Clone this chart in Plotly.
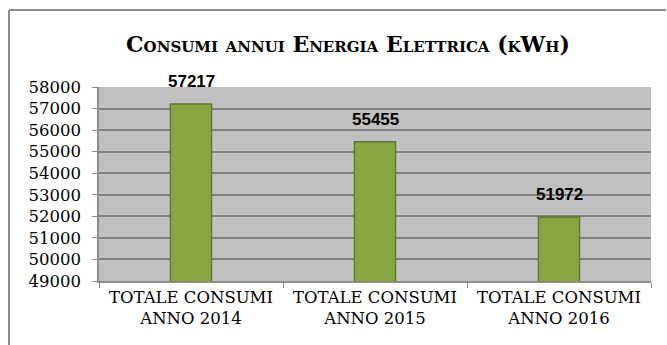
import plotly.graph_objects as go

categories = ["TOTALE CONSUMI<br>ANNO 2014", "TOTALE CONSUMI<br>ANNO 2015", "TOTALE CONSUMI<br>ANNO 2016"]
values = [57217, 55455, 51972]
title_text = "Consumi annui Energia Elettrica (kWh)"
y_ticks = list(range(49000, 58001, 1000))
y_tick_labels = [str(t) for t in y_ticks]

fig = go.Figure()
fig.add_trace(go.Bar(
    x=categories, y=values,
    marker=dict(color="#87a642", line=dict(color="#5f7a26", width=1.5)),
    width=0.223,
    showlegend=False,
    hoverinfo="skip",
))

for c, v in zip(categories, values):
    fig.add_annotation(x=c, y=v, text=str(v), showarrow=False, yshift=22,
                       font=dict(family="Liberation Sans, Arial", size=17, color="#000000", weight="bold"))

fig.update_layout(
    width=667, height=345,
    margin=dict(l=99, r=16, t=87, b=64),
    paper_bgcolor="#ffffff",
    plot_bgcolor="#c0c0c0",
    title=dict(text="<b>" + title_text + "</b>", x=(348 - 99) / 552, xanchor="center", xref="paper",
               y=1 - 44 / 345, yanchor="middle",
               font=dict(family="DejaVu Serif", size=22, color="#000000", variant="small-caps")),
    xaxis=dict(
        showline=True, linecolor="#8c8c8c", linewidth=1.5,
        ticks="outside", ticklen=5, tickcolor="#8c8c8c", tickson="boundaries",
        tickfont=dict(family="DejaVu Serif", size=16.5, color="#000000"),
        showgrid=False,
    ),
    yaxis=dict(
        range=[49000, 58000], tickvals=y_ticks, ticktext=y_tick_labels,
        showline=True, linecolor="#8c8c8c", linewidth=1.5,
        ticks="outside", ticklen=5, tickcolor="#8c8c8c",
        showgrid=True, gridcolor="#808080", gridwidth=1.5,
        tickfont=dict(family="DejaVu Serif", size=16.5, color="#000000"),
        ticklabelstandoff=8, zeroline=False,
    ),
    shapes=[
        dict(type="line", xref="paper", yref="paper",
             x0=(9 - 99) / 552, x1=(666 - 99) / 552, y0=(281 - 10) / 194, y1=(281 - 10) / 194,
             line=dict(color="#8c8c8c", width=2)),
        dict(type="line", xref="paper", yref="paper",
             x0=(9 - 99) / 552, x1=(9 - 99) / 552, y0=(281 - 10) / 194, y1=(281 - 345) / 194,
             line=dict(color="#8c8c8c", width=2)),
    ],
)

fig.write_html("out.html")
